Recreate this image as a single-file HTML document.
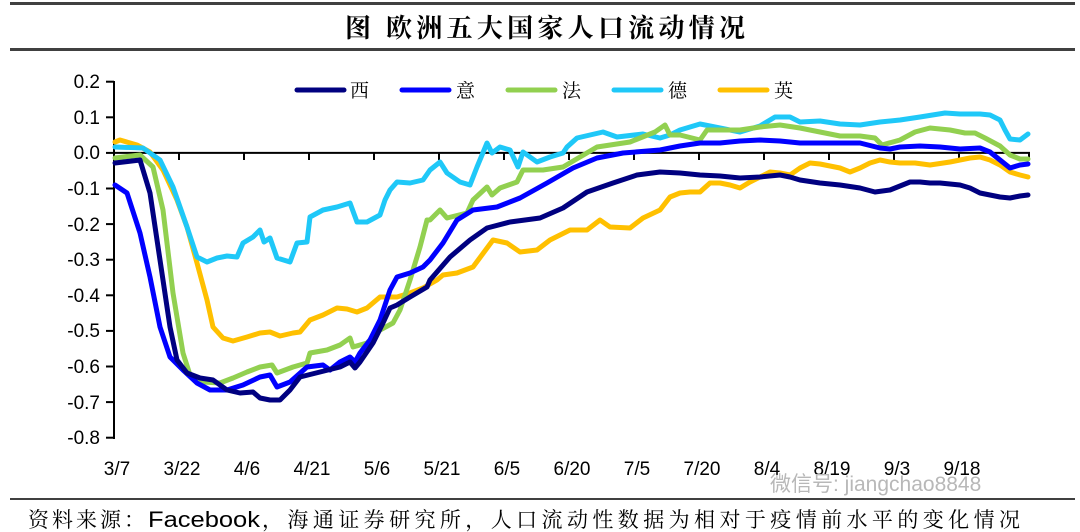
<!DOCTYPE html>
<html><head><meta charset="utf-8"><style>
html,body{margin:0;padding:0;background:#fff;}
body{width:1080px;height:532px;overflow:hidden;position:relative;font-family:"Liberation Sans","Noto Sans CJK SC",sans-serif;}
</style></head><body>
<svg width="1080" height="532" viewBox="0 0 1080 532" xmlns="http://www.w3.org/2000/svg" style="position:absolute;left:0;top:0">
<rect x="10" y="2" width="1065" height="3" fill="#404040"/>
<rect x="10" y="48" width="1065" height="3" fill="#404040"/>
<text x="345" y="37" textLength="400" lengthAdjust="spacing" font-family="Noto Serif CJK SC, serif" font-weight="bold" font-size="26" fill="#000">图 欧洲五大国家人口流动情况</text>
<g stroke="#000" stroke-width="2" fill="none">
<line x1="114" y1="81" x2="114" y2="439"/>
<line x1="114" y1="152.9" x2="1030" y2="152.9"/>
</g>
<g stroke="#000" stroke-width="2">
<line x1="106" y1="81.7" x2="114" y2="81.7"/><line x1="106" y1="117.3" x2="114" y2="117.3"/><line x1="106" y1="152.9" x2="114" y2="152.9"/><line x1="106" y1="188.5" x2="114" y2="188.5"/><line x1="106" y1="224.1" x2="114" y2="224.1"/><line x1="106" y1="259.7" x2="114" y2="259.7"/><line x1="106" y1="295.3" x2="114" y2="295.3"/><line x1="106" y1="330.9" x2="114" y2="330.9"/><line x1="106" y1="366.5" x2="114" y2="366.5"/><line x1="106" y1="402.1" x2="114" y2="402.1"/><line x1="106" y1="437.7" x2="114" y2="437.7"/>
<line x1="179" y1="153" x2="179" y2="160"/><line x1="244" y1="153" x2="244" y2="160"/><line x1="309" y1="153" x2="309" y2="160"/><line x1="374" y1="153" x2="374" y2="160"/><line x1="439" y1="153" x2="439" y2="160"/><line x1="504" y1="153" x2="504" y2="160"/><line x1="569" y1="153" x2="569" y2="160"/><line x1="634" y1="153" x2="634" y2="160"/><line x1="699" y1="153" x2="699" y2="160"/><line x1="764" y1="153" x2="764" y2="160"/><line x1="829" y1="153" x2="829" y2="160"/><line x1="894" y1="153" x2="894" y2="160"/><line x1="959" y1="153" x2="959" y2="160"/><line x1="1029" y1="153" x2="1029" y2="160"/>
</g>
<g font-size="19" fill="#000" text-anchor="end" font-family="Liberation Sans, sans-serif">
<text x="100" y="88">0.2</text><text x="100" y="124">0.1</text><text x="100" y="159">0.0</text><text x="100" y="195">-0.1</text><text x="100" y="231">-0.2</text><text x="100" y="266">-0.3</text><text x="100" y="302">-0.4</text><text x="100" y="337">-0.5</text><text x="100" y="373">-0.6</text><text x="100" y="409">-0.7</text><text x="100" y="444">-0.8</text>
</g>
<g font-size="19" fill="#000" text-anchor="middle" font-family="Liberation Sans, sans-serif">
<text x="117" y="475">3/7</text><text x="182" y="475">3/22</text><text x="247" y="475">4/6</text><text x="312" y="475">4/21</text><text x="377" y="475">5/6</text><text x="442" y="475">5/21</text><text x="507" y="475">6/5</text><text x="572" y="475">6/20</text><text x="637" y="475">7/5</text><text x="702" y="475">7/20</text><text x="767" y="475">8/4</text><text x="832" y="475">8/19</text><text x="897" y="475">9/3</text><text x="962" y="475">9/18</text>
</g>
<g fill="none" stroke-width="5" stroke-linejoin="round" stroke-linecap="round">
<polyline stroke="#FFC000" points="115,142 120,140 137,145 150,152 163,170 177,200 187,227 197,263 207,300 213,327 223,338 233,341 247,337 260,333 270,332 280,336 293,333 300,332 310,320 323,315 337,308 347,309 357,312 367,308 380,297 397,297 410,293 423,288 437,280 443,275 457,273 473,267 493,240 507,243 520,252 537,250 550,240 570,230 587,230 600,220 610,227 630,228 643,218 660,210 670,197 680,193 690,192 700,192 710,183 720,183 730,185 740,188 750,182 760,177 770,172 780,173 790,175 800,168 810,163 820,164 830,166 840,168 850,172 860,168 870,163 880,160 890,162 900,163 915,163 930,165 950,162 960,160 970,158 980,157 990,160 1000,165 1010,172 1020,175 1028,177"/>
<polyline stroke="#1FC8F8" points="115,147 143,148 160,160 173,187 187,227 197,257 207,262 217,258 227,256 237,257 243,243 253,237 260,230 264,242 270,238 277,258 290,262 297,243 307,242 310,217 323,210 337,207 350,203 357,222 367,222 380,215 385,200 390,190 397,182 410,183 423,180 430,170 440,162 447,173 460,182 470,185 477,167 487,143 492,153 500,147 510,150 518,167 523,152 537,162 550,157 563,153 567,147 577,138 603,132 617,137 643,134 660,138 670,135 680,130 700,124 720,128 740,132 760,126 775,117 790,117 800,122 820,121 840,124 860,125 880,122 900,120 920,117 945,113 960,114 980,114 990,115 1000,120 1005,130 1010,139 1020,140 1028,134"/>
<polyline stroke="#92D050" points="115,158 140,155 153,167 163,210 173,293 183,353 190,375 203,382 220,383 233,378 247,372 260,367 272,365 277,373 293,367 307,363 310,353 327,350 340,345 350,338 353,347 367,343 380,330 393,323 400,310 410,280 420,247 427,220 430,220 440,210 447,218 467,213 473,200 487,187 492,195 500,188 517,182 523,170 543,170 563,167 580,157 597,147 630,142 655,132 665,125 670,135 680,135 700,140 707,130 715,130 740,130 760,127 780,125 800,128 820,132 840,136 860,136 875,138 882,145 900,140 915,132 930,128 950,130 965,133 975,133 985,138 1000,146 1010,155 1020,159 1028,159"/>
<polyline stroke="#0000FF" points="115,185 127,193 140,233 150,277 160,327 170,357 183,370 197,383 210,390 227,390 243,385 260,377 270,375 277,387 290,382 307,367 323,365 330,370 340,362 350,357 355,362 360,353 370,340 380,320 390,290 397,277 410,273 423,267 430,260 443,243 457,220 473,210 497,207 520,198 547,183 573,168 597,158 623,153 660,150 680,146 700,143 720,143 740,141 760,140 780,141 800,143 820,143 840,143 860,143 880,148 890,149 900,147 920,146 940,147 960,149 980,148 990,152 1000,160 1010,168 1020,165 1028,164"/>
<polyline stroke="#000080" points="115,163 140,160 150,193 160,260 170,327 177,360 187,373 200,378 213,380 227,390 240,393 253,392 260,398 270,400 280,400 290,390 300,377 320,372 340,367 350,362 355,368 360,362 373,343 383,323 390,308 397,305 410,297 427,287 430,280 450,257 470,240 487,228 510,222 540,218 563,208 587,192 613,183 637,175 660,172 680,173 700,175 720,176 740,178 760,177 780,175 790,177 800,180 820,183 830,184 840,185 860,188 875,192 890,190 900,186 910,182 920,182 930,183 940,183 960,185 970,188 980,193 990,195 1000,197 1010,198 1020,196 1028,195"/>
</g>
<g stroke-width="5" stroke-linecap="round">
<line x1="297" y1="90" x2="344" y2="90" stroke="#000080"/>
<line x1="402" y1="90" x2="449" y2="90" stroke="#0000FF"/>
<line x1="508" y1="90" x2="555" y2="90" stroke="#92D050"/>
<line x1="614" y1="90" x2="661" y2="90" stroke="#1FC8F8"/>
<line x1="720" y1="90" x2="767" y2="90" stroke="#FFC000"/>
</g>
<g font-size="19" fill="#000" font-family="Noto Serif CJK SC, serif">
<text x="350" y="97">西</text><text x="456" y="97">意</text><text x="562" y="97">法</text><text x="668" y="97">德</text><text x="774" y="97">英</text>
</g>
<text x="770" y="491" font-size="21" fill="#b8b8b8" font-family="Liberation Sans, Noto Sans CJK SC, sans-serif">微信号: jiangchao8848</text>
<rect x="10" y="498" width="1065" height="2" fill="#404040"/>
<g font-size="21" fill="#000" font-family="Noto Serif CJK SC, serif">
<text x="28" y="527" textLength="117" lengthAdjust="spacing">资料来源：</text>
<text x="148" y="527" font-family="Liberation Sans, sans-serif" font-size="22" textLength="112" lengthAdjust="spacingAndGlyphs">Facebook</text>
<text x="262" y="527" textLength="758" lengthAdjust="spacing">，海通证券研究所，人口流动性数据为相对于疫情前水平的变化情况</text>
</g>
</svg>
</body></html>
